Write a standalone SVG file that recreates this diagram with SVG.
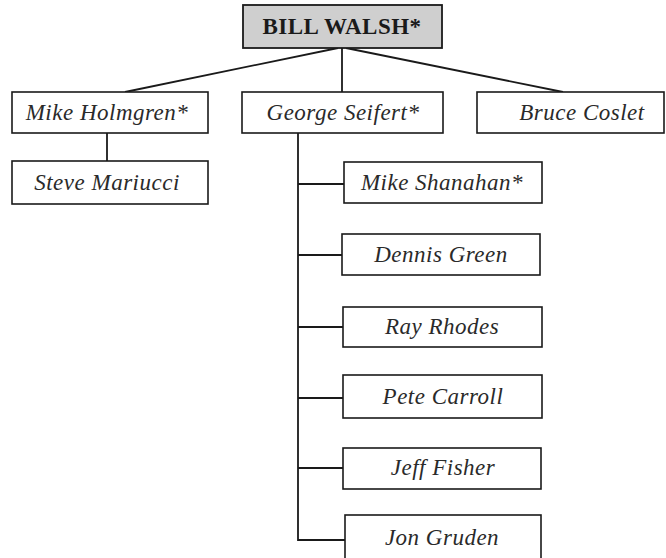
<svg xmlns="http://www.w3.org/2000/svg" width="666" height="558" viewBox="0 0 666 558">
<style>
.box{fill:#ffffff;stroke:#1a1a1a;stroke-width:1.6}
.root{fill:#cfcfcf;stroke:#1a1a1a;stroke-width:1.8}
.t{font-family:"Liberation Serif",serif;font-style:italic;font-size:23px;letter-spacing:0.5px;fill:#2a2a2a;text-anchor:middle}
.tb{font-family:"Liberation Serif",serif;font-weight:bold;font-size:23px;letter-spacing:0.5px;fill:#1a1a1a;text-anchor:middle}
.c{stroke:#1a1a1a;stroke-width:1.8;fill:none}
</style>
<rect width="666" height="558" fill="#ffffff"/>
<g id="connectors">
<line class="c" x1="338" y1="48" x2="125" y2="92"/>
<line class="c" x1="346" y1="48" x2="563" y2="92"/>
<line class="c" x1="342" y1="48" x2="342" y2="92"/>
<line class="c" x1="107" y1="133" x2="107" y2="161"/>
<polyline class="c" points="298,133 298,540 345,540"/>
<line class="c" x1="298" y1="184" x2="344" y2="184"/>
<line class="c" x1="298" y1="255" x2="342" y2="255"/>
<line class="c" x1="298" y1="327" x2="343" y2="327"/>
<line class="c" x1="298" y1="398" x2="343" y2="398"/>
<line class="c" x1="298" y1="468" x2="343" y2="468"/>
</g>
<g id="bill-walsh"><rect class="root" x="243" y="5" width="199" height="43"/><text class="tb" x="342" y="34">BILL WALSH*</text></g>
<g id="mike-holmgren"><rect class="box" x="12" y="92" width="196" height="41"/><text class="t" x="107" y="120">Mike Holmgren*</text></g>
<g id="george-seifert"><rect class="box" x="242" y="92" width="201" height="41"/><text class="t" x="343" y="120">George Seifert*</text></g>
<g id="bruce-coslet"><rect class="box" x="477" y="92" width="187" height="41"/><text class="t" x="582" y="120">Bruce Coslet</text></g>
<g id="steve-mariucci"><rect class="box" x="12" y="161" width="196" height="43"/><text class="t" x="107" y="190">Steve Mariucci</text></g>
<g id="mike-shanahan"><rect class="box" x="344" y="162" width="198" height="41"/><text class="t" x="442" y="190">Mike Shanahan*</text></g>
<g id="dennis-green"><rect class="box" x="342" y="234" width="198" height="41"/><text class="t" x="441" y="262">Dennis Green</text></g>
<g id="ray-rhodes"><rect class="box" x="343" y="307" width="199" height="40"/><text class="t" x="442" y="334">Ray Rhodes</text></g>
<g id="pete-carroll"><rect class="box" x="343" y="375" width="199" height="43"/><text class="t" x="443" y="404">Pete Carroll</text></g>
<g id="jeff-fisher"><rect class="box" x="343" y="448" width="198" height="41"/><text class="t" x="443" y="475">Jeff Fisher</text></g>
<g id="jon-gruden"><rect class="box" x="345" y="515" width="196" height="60"/><text class="t" x="442" y="545">Jon Gruden</text></g>
</svg>
